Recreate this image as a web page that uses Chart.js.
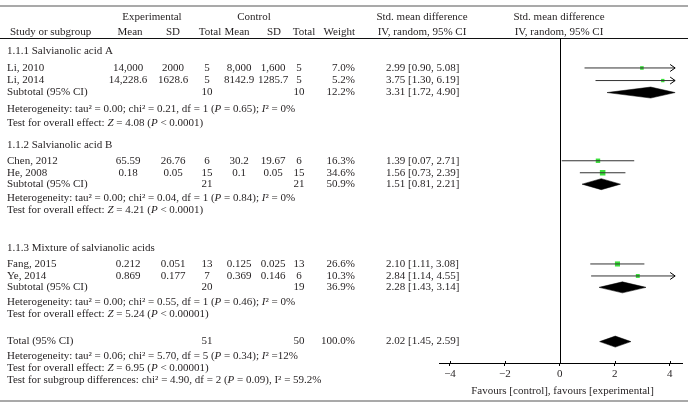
<!DOCTYPE html>
<html><head><meta charset="utf-8">
<script src="https://cdn.jsdelivr.net/npm/chart.js@4.4.1/dist/chart.umd.min.js"></script>
<style>html,body{margin:0;padding:0;background:#fff;}canvas{display:block;}</style>
</head><body>
<canvas id="c" width="696" height="411"></canvas>
<script>
// ---------------- DATA ----------------
const groups = ['1.1.1 Salvianolic acid A', '1.1.2 Salvianolic acid B', '1.1.3 Mixture of salvianolic acids'];
const studies = ['Li, 2010', 'Li, 2014', 'Chen, 2012', 'He, 2008', 'Fang, 2015', 'Ye, 2014'];
const studyGroup = [0, 0, 1, 1, 2, 2];
const expMean = ['14,000', '14,228.6', '65.59', '0.18', '0.212', '0.869'];
const expSD = ['2000', '1628.6', '26.76', '0.05', '0.051', '0.177'];
const expN = [5, 5, 6, 15, 13, 7];
const ctlMean = ['8,000', '8142.9', '30.2', '0.1', '0.125', '0.369'];
const ctlSD = ['1,600', '1285.7', '19.67', '0.05', '0.025', '0.146'];
const ctlN = [5, 5, 6, 15, 13, 6];
const weight = [7.0, 5.2, 16.3, 34.6, 26.6, 10.3];
const smd = [2.99, 3.75, 1.39, 1.56, 2.10, 2.84];
const ciLow = [0.90, 1.30, 0.07, 0.73, 1.11, 1.14];
const ciHigh = [5.08, 6.19, 2.71, 2.39, 3.08, 4.55];

const subExpN = [10, 21, 20];
const subCtlN = [10, 21, 19];
const subWeight = [12.2, 50.9, 36.9];
const subSmd = [3.31, 1.51, 2.28];
const subLow = [1.72, 0.81, 1.43];
const subHigh = [4.90, 2.21, 3.14];
const subTau2 = ['0.00', '0.00', '0.00'];
const subChi2 = ['0.21', '0.04', '0.55'];
const subDf = [1, 1, 1];
const subHetP = ['0.65', '0.84', '0.46'];
const subI2 = ['0%', '0%', '0%'];
const subZ = ['4.08', '4.21', '5.24'];
const subZP = ['< 0.0001', '< 0.0001', '< 0.00001'];

const totalExpN = 51, totalCtlN = 50, totalWeight = 100.0;
const totalSmd = 2.02, totalLow = 1.45, totalHigh = 2.59;
const totalTau2 = '0.06', totalChi2 = '5.70', totalDf = 5, totalHetP = '0.34', totalI2 = '12%';
const totalZ = '6.95', totalZP = '< 0.00001';
const subgroupChi2 = '4.90', subgroupDf = 2, subgroupP = '0.09', subgroupI2 = '59.2%';

const xTicks = [-4, -2, 0, 2, 4];
const xMin = -4.4, xMax = 4.45, plotCap = 4.2;

// ---------------- LAYOUT (row units, 1 unit = one text line) ----------------
const LINE = 12;
const groupStart = [1.1, 8.9, 17.5];
const groupSpread = [1.05, 1.0, 1.0];
const rows = { group: [], study: [], sub: [], het: [], test: [] };
(function () {
  for (let g = 0; g < groups.length; g++) {
    const k = groupSpread[g];
    let r = groupStart[g];
    rows.group[g] = r;
    r += 1.33 * k;
    studies.forEach((s, i) => { if (studyGroup[i] === g) { rows.study[i] = r; r += k; } });
    rows.sub[g] = r - 0.05;
    rows.het[g] = rows.sub[g] + 1.2 * k * k * k;
    rows.test[g] = rows.het[g] + 1.0 * k * k * k;
  }
  rows.total = 25.3; rows.totalHet = 26.5; rows.totalTest = 27.5; rows.subgroup = 28.5;
})();

const GREEN = '#3be03b';
const INK = '#231f20';
const FONT = '"Liberation Serif", "DejaVu Serif", serif';
const FS = 11;

// ---------------- DATASETS ----------------
const datasets = [];
studies.forEach((s, i) => {
  datasets.push({
    type: 'line', showLine: true, data: [{ x: ciLow[i], y: rows.study[i] }, { x: Math.min(ciHigh[i], plotCap), y: rows.study[i] }],
    borderColor: '#333', borderWidth: 1, pointRadius: 0, fill: false
  });
});
datasets.push({
  type: 'scatter', data: studies.map((s, i) => ({ x: smd[i], y: rows.study[i] })),
  pointStyle: 'rect', backgroundColor: GREEN, borderWidth: 0,
  pointRadius: weight.map(w => (2 + Math.sqrt(w) * 0.6) / Math.SQRT2)
});
function diamond(est, lo, hi, row) {
  const h = 5.5 / LINE;
  const top = Math.min(est, plotCap - 0.05), right = Math.min(hi, plotCap);
  return {
    type: 'line', showLine: true,
    data: [{ x: lo, y: row }, { x: top, y: row - h }, { x: right, y: row }, { x: top, y: row + h }, { x: lo, y: row }],
    borderColor: '#000', borderWidth: 0.5, backgroundColor: '#000', fill: 'shape', pointRadius: 0, tension: 0
  };
}
groups.forEach((g, k) => datasets.push(diamond(subSmd[k], subLow[k], subHigh[k], rows.sub[k])));
datasets.push(diamond(totalSmd, totalLow, totalHigh, rows.total));

// ---------------- TEXT HELPERS ----------------
function fontFor(it) { return (it ? 'italic ' : '') + FS + 'px ' + FONT; }
function rich(ctx, segs, x, y, align) {
  let w = 0;
  segs.forEach(s => { ctx.font = fontFor(s[1]); w += ctx.measureText(s[0]).width; });
  let cx = align === 'center' ? x - w / 2 : align === 'right' ? x - w : x;
  ctx.textAlign = 'left';
  segs.forEach(s => { ctx.font = fontFor(s[1]); ctx.fillText(s[0], cx, y); cx += ctx.measureText(s[0]).width; });
}
function txt(ctx, t, x, y, align) { rich(ctx, [[t, 0]], x, y, align); }
const ci = (e, l, h) => e.toFixed(2) + ' [' + l.toFixed(2) + ', ' + h.toFixed(2) + ']';

const COL = { study: 7, eMean: 128, eSD: 173, eN: 207, cMean: 239, cSD: 273, cN: 299, w: 355, ci: 386, smdHead: 422, plotHead: 559 };

const forestPlugin = {
  id: 'forest',
  beforeDatasetsDraw(chart) {
    const { ctx, chartArea: a, scales: { x } } = chart;
    const x0 = Math.round(x.getPixelForValue(0)) + 0.5;
    ctx.save();
    ctx.strokeStyle = '#000'; ctx.lineWidth = 1;
    ctx.beginPath(); ctx.moveTo(x0, a.top); ctx.lineTo(x0, a.bottom); ctx.stroke();
    xTicks.forEach(v => {
      const px = Math.round(x.getPixelForValue(v)) + 0.5;
      ctx.beginPath(); ctx.moveTo(px, a.bottom - 2); ctx.lineTo(px, a.bottom); ctx.stroke();
    });
    ctx.restore();
  },
  afterDraw(chart) {
    const { ctx, chartArea: a, scales: { x, y } } = chart;
    ctx.save();
    ctx.strokeStyle = '#000'; ctx.lineWidth = 1;
    studies.forEach((s, i) => {
      if (ciHigh[i] > plotCap) {
        const px = x.getPixelForValue(plotCap), py = y.getPixelForValue(rows.study[i]);
        ctx.beginPath(); ctx.moveTo(px - 5, py - 3.5); ctx.lineTo(px, py); ctx.lineTo(px - 5, py + 3.5); ctx.stroke();
      }
    });
    const W = 688;
    ctx.strokeStyle = '#555'; ctx.lineWidth = 1.2;
    ctx.beginPath(); ctx.moveTo(0, a.top - 32); ctx.lineTo(W, a.top - 32); ctx.stroke();
    ctx.strokeStyle = '#111'; ctx.lineWidth = 1;
    ctx.beginPath(); ctx.moveTo(0, a.top + 0.5); ctx.lineTo(W, a.top + 0.5); ctx.stroke();
    ctx.strokeStyle = '#555'; ctx.lineWidth = 1.2;
    ctx.beginPath(); ctx.moveTo(0, 401); ctx.lineTo(W, 401); ctx.stroke();

    ctx.fillStyle = INK; ctx.textBaseline = 'middle';
    const h1 = a.top - 21, h2 = a.top - 6;
    txt(ctx, 'Experimental', 152, h1, 'center');
    txt(ctx, 'Control', 254, h1, 'center');
    txt(ctx, 'Std. mean difference', COL.smdHead, h1, 'center');
    txt(ctx, 'Std. mean difference', COL.plotHead, h1, 'center');
    txt(ctx, 'Study or subgroup', COL.study + 3, h2, 'left');
    txt(ctx, 'Mean', 130, h2, 'center');
    txt(ctx, 'SD', 173, h2, 'center');
    txt(ctx, 'Total', 210, h2, 'center');
    txt(ctx, 'Mean', 237, h2, 'center');
    txt(ctx, 'SD', 274, h2, 'center');
    txt(ctx, 'Total', 304, h2, 'center');
    txt(ctx, 'Weight', COL.w, h2, 'right');
    txt(ctx, 'IV, random, 95% CI', COL.smdHead, h2, 'center');
    txt(ctx, 'IV, random, 95% CI', COL.plotHead, h2, 'center');

    const Y = r => y.getPixelForValue(r);
    groups.forEach((g, k) => {
      txt(ctx, g, COL.study, Y(rows.group[k]), 'left');
      const ys = Y(rows.sub[k]);
      txt(ctx, 'Subtotal (95% CI)', COL.study, ys, 'left');
      txt(ctx, String(subExpN[k]), COL.eN, ys, 'center');
      txt(ctx, String(subCtlN[k]), COL.cN, ys, 'center');
      txt(ctx, subWeight[k].toFixed(1) + '%', COL.w, ys, 'right');
      txt(ctx, ci(subSmd[k], subLow[k], subHigh[k]), COL.ci, ys, 'left');
      rich(ctx, [['Heterogeneity: tau² = ' + subTau2[k] + '; chi² = ' + subChi2[k] + ', df = ' + subDf[k] + ' (', 0], ['P', 1],
        [' = ' + subHetP[k] + '); ', 0], ['I', 1], ['² = ' + subI2[k], 0]], COL.study, Y(rows.het[k]), 'left');
      rich(ctx, [['Test for overall effect: ', 0], ['Z', 1], [' = ' + subZ[k] + ' (', 0], ['P', 1], [' ' + subZP[k] + ')', 0]],
        COL.study, Y(rows.test[k]), 'left');
    });
    studies.forEach((s, i) => {
      const yy = Y(rows.study[i]);
      txt(ctx, s, COL.study, yy, 'left');
      txt(ctx, expMean[i], COL.eMean, yy, 'center');
      txt(ctx, expSD[i], COL.eSD, yy, 'center');
      txt(ctx, String(expN[i]), COL.eN, yy, 'center');
      txt(ctx, ctlMean[i], COL.cMean, yy, 'center');
      txt(ctx, ctlSD[i], COL.cSD, yy, 'center');
      txt(ctx, String(ctlN[i]), COL.cN, yy, 'center');
      txt(ctx, weight[i].toFixed(1) + '%', COL.w, yy, 'right');
      txt(ctx, ci(smd[i], ciLow[i], ciHigh[i]), COL.ci, yy, 'left');
    });
    const yt = Y(rows.total);
    txt(ctx, 'Total (95% CI)', COL.study, yt, 'left');
    txt(ctx, String(totalExpN), COL.eN, yt, 'center');
    txt(ctx, String(totalCtlN), COL.cN, yt, 'center');
    txt(ctx, totalWeight.toFixed(1) + '%', COL.w, yt, 'right');
    txt(ctx, ci(totalSmd, totalLow, totalHigh), COL.ci, yt, 'left');
    rich(ctx, [['Heterogeneity: tau² = ' + totalTau2 + '; chi² = ' + totalChi2 + ', df = ' + totalDf + ' (', 0], ['P', 1],
      [' = ' + totalHetP + '); ', 0], ['I', 1], ['² =' + totalI2, 0]], COL.study, Y(rows.totalHet), 'left');
    rich(ctx, [['Test for overall effect: ', 0], ['Z', 1], [' = ' + totalZ + ' (', 0], ['P', 1], [' ' + totalZP + ')', 0]],
      COL.study, Y(rows.totalTest), 'left');
    rich(ctx, [['Test for subgroup differences: chi² = ' + subgroupChi2 + ', df = ' + subgroupDf + ' (', 0], ['P', 1],
      [' = ' + subgroupP + '), I² = ' + subgroupI2, 0]], COL.study, Y(rows.subgroup), 'left');
    txt(ctx, 'Favours [control], favours [experimental]', (x.left + x.right) / 2 + 2, 391, 'center');
    ctx.restore();
  }
};

new Chart(document.getElementById('c'), {
  type: 'scatter',
  data: { datasets },
  options: {
    responsive: false, animation: false, events: [],
    layout: { padding: { left: 439, right: 14, top: 38, bottom: 30 } },
    plugins: { legend: { display: false }, tooltip: { enabled: false } },
    scales: {
      x: {
        type: 'linear', min: xMin, max: xMax,
        afterBuildTicks: s => { s.ticks = xTicks.map(v => ({ value: v })); },
        afterFit: s => { s.height = 18; },
        grid: { display: true, drawOnChartArea: false, drawTicks: true, tickLength: 3, color: '#000' },
        border: { display: true, color: '#000', width: 1 },
        ticks: { font: { family: FONT, size: FS }, color: INK, padding: 2, maxRotation: 0,
          callback: v => (v < 0 ? '\u2212' + Math.abs(v) : String(v)) }
      },
      y: { type: 'linear', display: false, reverse: true, min: 0, max: 325 / LINE }
    }
  },
  plugins: [forestPlugin]
});
</script></body></html>
